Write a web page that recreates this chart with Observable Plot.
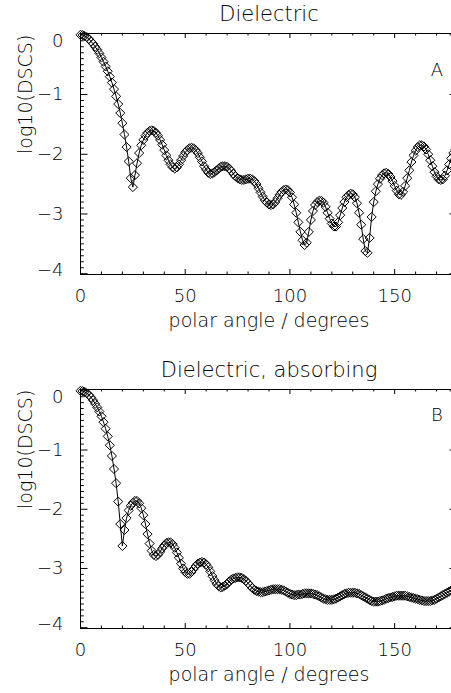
<!DOCTYPE html>
<html><head><meta charset="utf-8">
<script src="https://cdn.jsdelivr.net/npm/d3@7"></script>
<script src="https://cdn.jsdelivr.net/npm/@observablehq/plot@0.6"></script>
<style>
html,body{margin:0;padding:0;background:#fff;overflow:hidden;width:451px;height:693px}
svg{overflow:hidden;display:block}
</style>
</head><body><div id="c"></div>
<script>
const angles = [0,1,2,3,4,5,6,7,8,9,10,11,12,13,14,15,16,17,18,19,20,21,22,23,24,25,26,27,28,29,30,31,32,33,34,35,36,37,38,39,40,41,42,43,44,45,46,47,48,49,50,51,52,53,54,55,56,57,58,59,60,61,62,63,64,65,66,67,68,69,70,71,72,73,74,75,76,77,78,79,80,81,82,83,84,85,86,87,88,89,90,91,92,93,94,95,96,97,98,99,100,101,102,103,104,105,106,107,108,109,110,111,112,113,114,115,116,117,118,119,120,121,122,123,124,125,126,127,128,129,130,131,132,133,134,135,136,137,138,139,140,141,142,143,144,145,146,147,148,149,150,151,152,153,154,155,156,157,158,159,160,161,162,163,164,165,166,167,168,169,170,171,172,173,174,175,176,177,178,179,180];

const dielectric = [0,-0.005,-0.02,-0.04,-0.07,-0.11,-0.15,-0.2,-0.25,-0.31,
-0.38,-0.45,-0.53,-0.61,-0.7,-0.8,-0.91,-1.03,-1.16,-1.31,
-1.48,-1.67,-1.88,-2.12,-2.4,-2.55,-2.35,-2.15,-1.98,-1.85,
-1.76,-1.69,-1.64,-1.61,-1.6,-1.61,-1.64,-1.69,-1.76,-1.84,
-1.93,-2.02,-2.1,-2.17,-2.22,-2.24,-2.22,-2.17,-2.1,-2.03,
-1.97,-1.93,-1.9,-1.89,-1.9,-1.93,-1.98,-2.05,-2.12,-2.2,
-2.26,-2.31,-2.33,-2.32,-2.3,-2.27,-2.24,-2.21,-2.2,-2.2,
-2.21,-2.24,-2.28,-2.33,-2.37,-2.4,-2.42,-2.43,-2.43,-2.42,
-2.41,-2.41,-2.42,-2.45,-2.5,-2.57,-2.64,-2.71,-2.77,-2.81,
-2.84,-2.85,-2.84,-2.8,-2.74,-2.68,-2.63,-2.6,-2.59,-2.6,
-2.64,-2.72,-2.84,-2.98,-3.14,-3.3,-3.44,-3.52,-3.48,-3.3,
-3.1,-2.95,-2.85,-2.8,-2.78,-2.78,-2.81,-2.88,-2.98,-3.08,
-3.16,-3.21,-3.21,-3.14,-3.02,-2.9,-2.8,-2.72,-2.68,-2.66,
-2.67,-2.72,-2.82,-2.98,-3.18,-3.42,-3.62,-3.65,-3.4,-3.05,
-2.8,-2.62,-2.5,-2.41,-2.35,-2.32,-2.31,-2.33,-2.38,-2.45,
-2.53,-2.61,-2.67,-2.68,-2.63,-2.53,-2.4,-2.27,-2.13,-2.02,
-1.94,-1.88,-1.85,-1.85,-1.87,-1.92,-2.0,-2.1,-2.2,-2.3,
-2.37,-2.42,-2.43,-2.42,-2.36,-2.27,-2.17,-2.07,-1.98,-1.92,
-1.9];

const absorbing = [0,-0.005,-0.02,-0.04,-0.07,-0.11,-0.16,-0.22,-0.28,-0.35,
-0.43,-0.53,-0.64,-0.77,-0.92,-1.1,-1.32,-1.56,-1.87,-2.25,
-2.62,-2.35,-2.15,-2.02,-1.94,-1.89,-1.86,-1.86,-1.9,-1.98,
-2.1,-2.25,-2.42,-2.58,-2.7,-2.77,-2.79,-2.77,-2.72,-2.66,
-2.61,-2.57,-2.56,-2.56,-2.59,-2.65,-2.73,-2.82,-2.92,-3.0,
-3.06,-3.09,-3.09,-3.06,-3.01,-2.96,-2.92,-2.9,-2.89,-2.9,
-2.93,-2.98,-3.05,-3.13,-3.2,-3.26,-3.3,-3.32,-3.31,-3.29,
-3.26,-3.22,-3.19,-3.17,-3.16,-3.15,-3.15,-3.16,-3.18,-3.21,
-3.25,-3.29,-3.33,-3.36,-3.38,-3.39,-3.4,-3.4,-3.39,-3.38,
-3.37,-3.36,-3.35,-3.35,-3.35,-3.35,-3.36,-3.37,-3.39,-3.41,
-3.43,-3.44,-3.45,-3.45,-3.44,-3.44,-3.43,-3.42,-3.42,-3.42,
-3.42,-3.43,-3.44,-3.45,-3.47,-3.49,-3.51,-3.52,-3.53,-3.53,
-3.53,-3.52,-3.51,-3.49,-3.47,-3.45,-3.43,-3.42,-3.41,-3.41,
-3.41,-3.41,-3.42,-3.43,-3.45,-3.47,-3.49,-3.51,-3.53,-3.55,
-3.56,-3.56,-3.56,-3.55,-3.54,-3.53,-3.51,-3.5,-3.49,-3.48,
-3.47,-3.46,-3.46,-3.46,-3.46,-3.46,-3.47,-3.48,-3.49,-3.5,
-3.51,-3.52,-3.53,-3.54,-3.55,-3.55,-3.55,-3.55,-3.54,-3.53,
-3.51,-3.49,-3.47,-3.45,-3.43,-3.41,-3.39,-3.37,-3.35,-3.33,
-3.31];

const xMajor = [0, 50, 100, 150];
const xMinor = [10, 20, 30, 40, 60, 70, 80, 90, 110, 120, 130, 140, 160, 170];
const yMajor = [0, -1, -2, -3, -4];
const yMinor = [-0.1,-0.2,-0.3,-0.4,-0.5,-0.6,-0.7,-0.8,-0.9,
-1.1,-1.2,-1.3,-1.4,-1.5,-1.6,-1.7,-1.8,-1.9,
-2.1,-2.2,-2.3,-2.4,-2.5,-2.6,-2.7,-2.8,-2.9,
-3.1,-3.2,-3.3,-3.4,-3.5,-3.6,-3.7,-3.8,-3.9];
const titles = ["Dielectric", "Dielectric, absorbing"];
const letters = ["A", "B"];
const xLabel = "polar angle / degrees";
const yLabel = "log10(DSCS)";

const FONT = "'DejaVu Sans', sans-serif";
const fmtY = d => d === 0 ? "0" : "\u2212" + Math.abs(d);

function panel(values, title, letter, height, mt, mb, letterDy) {
  const data = angles.map((a, i) => ({a, v: values[i]}));
  const fh = height - mt - mb;
  const fw = 451 - 80 + 6;
  const yTop = yMajor.filter(d => d === d3.max(yMajor));
  const yBot = yMajor.filter(d => d === d3.min(yMajor));
  const yMid = yMajor.filter(d => d !== d3.max(yMajor) && d !== d3.min(yMajor));
  const yLab = {frameAnchor: "left", dx: -17, textAnchor: "end", text: fmtY, fontSize: 18, fill: "black", lineAnchor: "middle"};
  return Plot.plot({
    width: 451, height,
    marginLeft: 80, marginRight: -6, marginTop: mt, marginBottom: mb,
    x: {domain: [0, 180], axis: null},
    y: {domain: [-4, 0], axis: null, insetTop: 1.3, insetBottom: 0.8},
    style: {fontFamily: FONT, fontWeight: 200, background: "white", color: "black"},
    marks: [
      Plot.frame({stroke: "black", strokeWidth: 1}),
      Plot.tickX(xMajor, {x: d => d, stroke: "black", insetTop: fh - 5}),
      Plot.tickX(xMajor, {x: d => d, stroke: "black", insetBottom: fh - 5}),
      Plot.tickX(xMinor, {x: d => d, stroke: "black", insetTop: fh - 2.5}),
      Plot.tickX(xMinor, {x: d => d, stroke: "black", insetBottom: fh - 2.5}),
      Plot.tickY(yMajor, {y: d => d, stroke: "black", insetRight: fw - 7.5}),
      Plot.tickY(yMajor, {y: d => d, stroke: "black", insetLeft: fw - 7.5}),
      Plot.tickY(yMinor, {y: d => d, stroke: "black", insetRight: fw - 3.75}),
      Plot.tickY(yMinor, {y: d => d, stroke: "black", insetLeft: fw - 3.75}),
      Plot.text(xMajor, {x: d => d, frameAnchor: "bottom", dy: 22, text: d => String(d), fontSize: 18, fill: "black", lineAnchor: "middle"}),
      Plot.text(yMid, {y: d => d, ...yLab}),
      Plot.text(yTop, {y: d => d, ...yLab, dy: 6.5}),
      Plot.text(yBot, {y: d => d, ...yLab, dy: -3.5}),
      Plot.text([title], {frameAnchor: "top", dy: -19, text: d => d, fontSize: 21, fill: "black", lineAnchor: "middle"}),
      Plot.text([xLabel], {frameAnchor: "bottom", dy: 46, text: d => d, fontSize: 19, fill: "black", lineAnchor: "middle"}),
      Plot.text([yLabel], {frameAnchor: "left", dx: -55, rotate: -90, text: d => d, fontSize: 19, fill: "black", lineAnchor: "middle"}),
      Plot.text([letter], {frameAnchor: "top-right", dx: -20.5, dy: letterDy, text: d => d, fontSize: 18, fill: "black", textAnchor: "middle", lineAnchor: "middle"}),
      Plot.line(data, {x: "a", y: "v", stroke: "black", strokeWidth: 1}),
      Plot.dot(data, {x: "a", y: "v", symbol: "diamond2", r: 4.1, stroke: "black", strokeWidth: 1, fill: "none"})
    ]
  });
}

const c = document.getElementById("c");
c.append(panel(dielectric, titles[0], letters[0], 347, 33, 73, 36.5));
c.append(panel(absorbing, titles[1], letters[1], 346, 42, 65, 26));
</script>
</body></html>
